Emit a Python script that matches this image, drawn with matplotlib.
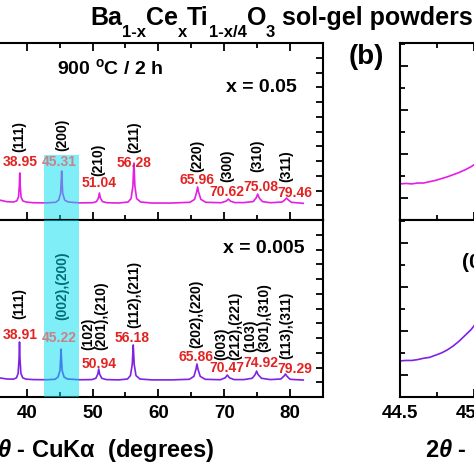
import matplotlib
matplotlib.use("Agg")
import matplotlib.pyplot as plt
from matplotlib.ticker import MultipleLocator, FixedLocator, NullFormatter, FormatStrFormatter

plt.rcParams['font.family'] = ['Liberation Sans', 'DejaVu Sans']
plt.rcParams['font.weight'] = 'bold'
plt.rcParams['axes.labelweight'] = 'bold'
plt.rcParams['mathtext.fontset'] = 'custom'
plt.rcParams['mathtext.rm'] = 'Liberation Sans:bold'
plt.rcParams['mathtext.bf'] = 'Liberation Sans:bold'
plt.rcParams['mathtext.it'] = 'Liberation Sans:italic'
plt.rcParams['mathtext.default'] = 'bf'

# ---------------- data ----------------
# x = 0.05 pattern (2theta, intensity a.u.)
tt_05 = [35.8, 37.0, 38.0, 38.5, 38.75, 38.88, 38.95, 39.02, 39.15, 39.4, 39.9, 41.0, 43.0,
         44.4, 44.85, 45.15, 45.24, 45.31, 45.38, 45.47, 45.77, 46.3, 48.0, 50.0, 50.6, 50.9,
         51.04, 51.18, 51.5, 52.2, 54.0, 55.4, 55.85, 56.13, 56.22, 56.28, 56.34, 56.43, 56.7,
         57.3, 59.0, 62.0, 64.8, 65.5, 65.82, 65.96, 66.1, 66.45, 67.2, 69.5, 70.3, 70.62, 70.94,
         71.6, 73.0, 74.4, 74.85, 75.08, 75.31, 75.8, 77.0, 78.8, 79.25, 79.46, 79.67, 80.2, 82.0]
I_05 = [1.36, 1.24, 1.22, 1.30, 1.55, 2.30, 3.19, 2.30, 1.55, 1.30, 1.22, 1.17, 1.16,
        1.20, 1.35, 1.80, 2.60, 3.32, 2.60, 1.80, 1.35, 1.22, 1.16, 1.17, 1.25, 1.50,
        1.83, 1.50, 1.25, 1.17, 1.15, 1.22, 1.45, 2.30, 3.30, 3.86, 3.30, 2.30, 1.45,
        1.22, 1.15, 1.15, 1.20, 1.40, 1.90, 2.24, 1.90, 1.40, 1.20, 1.17, 1.28, 1.42, 1.28,
        1.18, 1.18, 1.25, 1.50, 1.76, 1.50, 1.25, 1.17, 1.22, 1.38, 1.49, 1.38, 1.20, 1.13]

# x = 0.005 pattern
tt_005 = [35.8, 37.0, 38.0, 38.45, 38.7, 38.84, 38.91, 38.98, 39.12, 39.4, 39.9, 41.0, 43.0,
          44.3, 44.75, 45.06, 45.15, 45.22, 45.29, 45.38, 45.68, 46.2, 48.0, 49.9, 50.5, 50.8,
          50.94, 51.08, 51.4, 52.1, 54.0, 55.3, 55.75, 56.03, 56.12, 56.18, 56.24, 56.33, 56.6,
          57.2, 59.0, 62.0, 64.7, 65.4, 65.72, 65.86, 66.0, 66.35, 67.1, 69.4, 70.15, 70.47, 70.79,
          71.5, 73.0, 74.25, 74.7, 74.92, 75.14, 75.65, 77.0, 78.6, 79.08, 79.29, 79.5, 80.0, 82.0]
I_005 = [1.30, 1.22, 1.21, 1.30, 1.60, 2.60, 3.73, 2.60, 1.60, 1.30, 1.21, 1.18, 1.17,
         1.20, 1.35, 1.80, 2.55, 3.25, 2.55, 1.80, 1.35, 1.22, 1.17, 1.18, 1.27, 1.55,
         1.90, 1.55, 1.27, 1.18, 1.16, 1.22, 1.45, 2.20, 3.00, 3.53, 3.00, 2.20, 1.45,
         1.22, 1.16, 1.16, 1.20, 1.40, 1.90, 2.24, 1.90, 1.40, 1.20, 1.17, 1.30, 1.49, 1.30,
         1.18, 1.18, 1.27, 1.52, 1.76, 1.52, 1.27, 1.18, 1.22, 1.42, 1.56, 1.42, 1.20, 1.15]

# zoom (b)
tt_zoom = [44.50, 44.54, 44.58, 44.62, 44.66, 44.70, 44.74, 44.78, 44.82, 44.86, 44.90, 44.94,
           44.98, 45.02, 45.06]
I_zoom_05 = [0.82, 0.83, 0.82, 0.84, 0.84, 0.87, 0.90, 0.94, 0.98, 1.03, 1.08, 1.14,
             1.21, 1.30, 1.42]
I_zoom_005 = [0.82, 0.83, 0.83, 0.85, 0.88, 0.90, 0.95, 1.00, 1.07, 1.16, 1.27, 1.40,
              1.53, 1.70, 1.92]

# peak positions (red labels) and Miller indices
pk_05 = ["38.95", "45.31", "51.04", "56.28", "65.96", "70.62", "75.08", "79.46"]
hkl_05 = ["(111)", "(200)", "(210)", "(211)", "(220)", "(300)", "(310)", "(311)"]
pk_005 = ["38.91", "45.22", "50.94", "56.18", "65.86", "70.47", "74.92", "79.29"]
hkl_005 = ["(111)", "(002),(200)", "(102)\n(201),(210)", "(112),(211)", "(202),(220)",
           "(003)\n(212),(221)", "(103)\n(301),(310)", "(113),(311)"]

# label positions (2theta, intensity)
pk_05_pos = [(39.09, 3.93), (45.0, 3.93), (51.06, 2.51), (56.36, 3.86), (65.9, 2.71),
             (70.45, 1.90), (75.6, 2.24), (80.76, 1.83)]
hkl_05_pos = [(38.94, 5.63), (45.45, 5.76), (50.9, 4.07), (56.36, 5.63), (65.9, 4.34),
              (70.45, 3.66), (75.0, 4.34), (79.4, 3.66)]
pk_005_pos = [(39.09, 4.2), (45.0, 4.0), (51.06, 2.24), (56.06, 4.0), (65.76, 2.71),
              (70.45, 1.97), (75.6, 2.31), (80.76, 1.9)]
hkl_005_pos = [(38.94, 6.31, 'center'), (45.45, 7.53, 'center'), (50.3, 3.19, 'bottom'),
               (56.36, 6.92, 'center'), (65.76, 5.63, 'center'), (70.6, 2.51, 'bottom'),
               (75.0, 3.05, 'bottom'), (79.4, 4.88, 'center')]

band = (42.6, 48.0)

# title pieces: (text, is_subscript)
title_parts = [("Ba", False), ("1-x", True), ("Ce", False), ("x", True), ("Ti", False),
               ("1-x/4", True), ("O", False), ("3", True), (" sol-gel powders", False)]

xlabel_text = r'2$\mathit{\theta}$ - CuKα  (degrees)'

mag = '#e41ee4'
pur = '#7f22e6'
red = '#e32222'
cyan = '#00dfee'

W = H = 474.0
fig = plt.figure(figsize=(4.74, 4.74), dpi=100)

def ax_at(x0, x1, ytop, ybot):
    return fig.add_axes([x0 / W, 1 - ybot / H, (x1 - x0) / W, (ybot - ytop) / H])

axA1 = ax_at(-105, 323, 43, 220)
axA2 = ax_at(-105, 323, 220, 397)
axB1 = ax_at(400, 622, 43, 220)
axB2 = ax_at(400, 622, 220, 397)

for ax in (axA1, axA2, axB1, axB2):
    for s in ax.spines.values():
        s.set_linewidth(1.5)
    ax.tick_params(which='both', direction='in', width=1.3, labelsize=13.5, pad=6)
    ax.tick_params(which='major', length=6)
    ax.tick_params(which='minor', length=3.5)

# left panels
for ax in (axA1, axA2):
    ax.set_xlim(20, 85)
    ax.set_ylim(0, 12)
    ax.xaxis.set_major_locator(MultipleLocator(10))
    ax.xaxis.set_minor_locator(MultipleLocator(5))
    ax.yaxis.set_major_locator(MultipleLocator(1))
    ax.yaxis.set_minor_locator(FixedLocator([]))
    ax.tick_params(axis='y', left=False, right=True, labelleft=False, labelright=False)
    ax.tick_params(axis='y', which='major', length=5)

axA1.tick_params(axis='x', which='both', top=True, bottom=True, labelbottom=False)
axA2.tick_params(axis='x', which='both', top=False, bottom=True, labelbottom=True)

axA1.plot(tt_05, I_05, color=mag, lw=1.2, zorder=2)
axA2.plot(tt_005, I_005, color=pur, lw=1.2, zorder=2)

axA1.axvspan(band[0], band[1], ymin=0, ymax=4.4 / 12, color=cyan, alpha=0.5, lw=0, zorder=3)
axA2.axvspan(band[0], band[1], color=cyan, alpha=0.5, lw=0, zorder=3)

for lab, (x, y) in zip(pk_05, pk_05_pos):
    c = '#c98188' if lab == "45.31" else red
    axA1.text(x, y, lab, color=c, fontsize=10, fontweight='bold', ha='center', va='center', zorder=4)
for lab, (x, y) in zip(hkl_05, hkl_05_pos):
    axA1.text(x, y, lab, color='black', fontsize=10, fontweight='bold', ha='center', va='center',
              rotation=90, zorder=2)
for lab, (x, y) in zip(pk_005, pk_005_pos):
    c = '#c98188' if lab == "45.22" else red
    axA2.text(x, y, lab, color=c, fontsize=10, fontweight='bold', ha='center', va='center', zorder=4)
for lab, (x, y, va) in zip(hkl_005, hkl_005_pos):
    axA2.text(x, y, lab, color='black', fontsize=10, fontweight='bold', ha='center', va=va,
              rotation=90, multialignment='left', linespacing=0.95, zorder=2)

axA1.text(44.55, 10.3, r'900 $^{o}$C / 2 h', fontsize=14, fontweight='bold', ha='left', va='center')
axA1.text(81.06, 8.95, 'x = 0.05', fontsize=14, fontweight='bold', ha='right', va='center')
axA2.text(82.12, 10.1, 'x = 0.005', fontsize=14, fontweight='bold', ha='right', va='center')

axA2.set_xlabel(xlabel_text, fontsize=17, fontweight='bold')
axA2.xaxis.label.set_ha('right')
axA2.xaxis.set_label_coords((215 + 105) / 428, -53 / 177)
axA2.xaxis.label.set_va('center')

# right panels
for ax in (axB1, axB2):
    ax.set_xlim(44.5, 46.0)
    ax.set_ylim(0, 4.02)
    ax.xaxis.set_major_locator(MultipleLocator(0.5))
    ax.xaxis.set_minor_locator(MultipleLocator(0.25))
    ax.yaxis.set_major_locator(FixedLocator([0.5, 1.5, 2.5, 3.5]))
    ax.yaxis.set_minor_locator(FixedLocator([1, 2, 3, 4]))
    ax.yaxis.set_major_formatter(NullFormatter())
    ax.tick_params(axis='y', which='both', left=True, right=True, labelleft=False)
    ax.tick_params(axis='y', which='major', length=6)
    ax.tick_params(axis='y', which='minor', length=3.5)
    ax.xaxis.set_major_formatter(FormatStrFormatter('%.1f'))

axB1.tick_params(axis='x', which='both', top=True, bottom=True, labelbottom=False)
axB2.tick_params(axis='x', which='both', top=False, bottom=True, labelbottom=True)

axB1.plot(tt_zoom, I_zoom_05, color=mag, lw=1.2)
axB2.plot(tt_zoom, I_zoom_005, color=pur, lw=1.2)
axB2.text(44.92, 3.05, '(002)', fontsize=15, fontweight='bold', ha='left', va='center')

axB2.set_xlabel(xlabel_text, fontsize=17, fontweight='bold')
axB2.xaxis.label.set_ha('left')
axB2.xaxis.set_label_coords(25 / 222, -53 / 177)
axB2.xaxis.label.set_va('center')

for ax in (axA2, axB2):
    for lbl in ax.get_xticklabels():
        lbl.set_fontweight('bold')

fig.text(366 / W, 1 - 57 / H, '(b)', fontsize=20, fontweight='bold', ha='center', va='center')

# title built from pieces (main text + lowered subscripts)
renderer = fig.canvas.get_renderer()
xcur = 90.0
for txt, sub in title_parts:
    size = 12 if sub else 18
    ybase = 37.0 if sub else 25.0
    t = fig.text(xcur / W, 1 - ybase / H, txt, fontsize=size, fontweight='bold',
                 ha='left', va='baseline')
    bb = t.get_window_extent(renderer=renderer)
    xcur += bb.width

fig.savefig('out.png', dpi=100)
